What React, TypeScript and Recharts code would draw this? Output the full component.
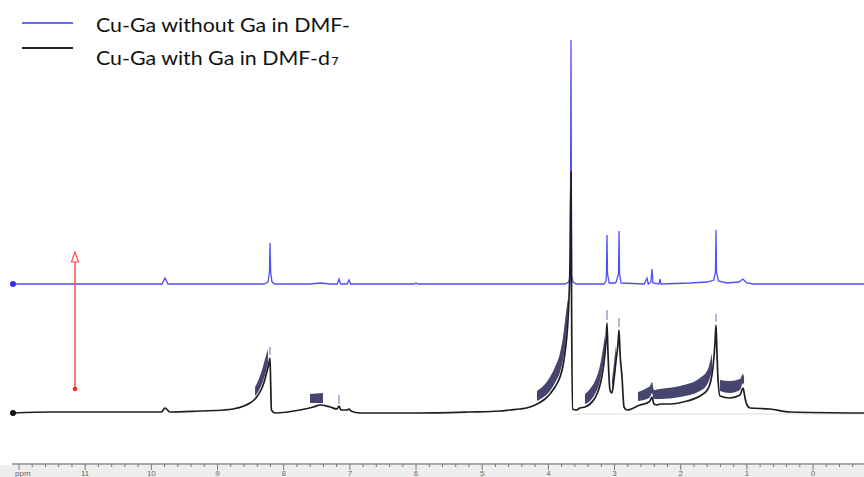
import React from "react";
import {
  ComposedChart,
  Line,
  Area,
  XAxis,
  YAxis,
  ReferenceLine,
  ReferenceDot,
} from "recharts";

// Stacked 1H NMR spectra, chemical shift (ppm) vs intensity (arbitrary units)
const BLUE_OFFSET = 180;
const BLACK_OFFSET = 51;

// Cu-Ga without Ga in DMF- : [ppm, intensity]
const blueSpectrum: [number, number][] = [
  [12.091, 0], [9.84, 0], [9.794, 6], [9.75, 0], [8.3, 0], [8.237, 2], [8.215, 12],
  [8.207, 41], [8.197, 12], [8.176, 2], [8.13, 0], [7.6, 0], [7.45, 1], [7.3, 0],
  [7.19, 0], [7.164, 5], [7.14, 0], [7.04, 0], [7.013, 4], [6.99, 0], [6.03, 0],
  [6.0, 1], [5.97, 0], [3.75, 0], [3.69, 2], [3.668, 8], [3.658, 244], [3.648, 8],
  [3.627, 2], [3.58, 0], [3.16, 0], [3.13, 3], [3.122, 10], [3.114, 49], [3.106, 10],
  [3.08, 1], [2.99, 1], [2.975, 2], [2.94, 10], [2.932, 53], [2.924, 10], [2.9, 1],
  [2.55, 0], [2.51, 6], [2.49, 0], [2.45, 2], [2.434, 15], [2.42, 1], [2.33, 0],
  [2.313, 5], [2.3, 0], [1.86, 1], [1.6, 2], [1.5, 4], [1.475, 12], [1.467, 54],
  [1.459, 12], [1.43, 3], [1.3, 1], [1.12, 2], [1.06, 5], [1.0, 1], [0.9, 0], [-0.77, 0],
];

// Cu-Ga with Ga in DMF-d7 : [ppm, intensity]
const blackSpectrum: [number, number][] = [
  [12.091, 0], [11.5, 1], [10.776, 1], [9.85, 1], [9.794, 5], [9.72, 1], [9.265, 2],
  [8.9, 3], [8.766, 4], [8.6, 7], [8.509, 10], [8.433, 14], [8.388, 18], [8.328, 25],
  [8.282, 34], [8.252, 42], [8.222, 50], [8.207, 55], [8.197, 30], [8.185, 3],
  [8.131, 0], [7.753, 3], [7.55, 6], [7.451, 8], [7.3, 6], [7.194, 4],
  [7.164, 7], [7.134, 3], [7.043, 3], [7.013, 4], [6.983, 2], [6.847, 0], [6.0, 0],
  [5.2, 1], [4.731, 2], [4.58, 3], [4.429, 4], [4.278, 6], [4.172, 9], [4.051, 14],
  [3.976, 19], [3.9, 26], [3.824, 36], [3.779, 47], [3.749, 60], [3.719, 78],
  [3.703, 93], [3.688, 115], [3.673, 150], [3.658, 241], [3.648, 90], [3.632, 4],
  [3.582, 3], [3.522, 5], [3.447, 6], [3.371, 9], [3.296, 15], [3.236, 24],
  [3.19, 37], [3.16, 50], [3.129, 72], [3.114, 90], [3.099, 60], [3.069, 23],
  [3.039, 20], [3.008, 34], [2.978, 52], [2.947, 70], [2.932, 83], [2.917, 60],
  [2.887, 36], [2.857, 6], [2.811, 3], [2.615, 8], [2.51, 10], [2.464, 12],
  [2.434, 16], [2.404, 9], [2.358, 8], [2.313, 9], [2.162, 9], [1.905, 12],
  [1.709, 17], [1.588, 24], [1.542, 33], [1.512, 46], [1.482, 70], [1.467, 88],
  [1.452, 60], [1.437, 35], [1.406, 17], [1.255, 15], [1.104, 18], [1.058, 25],
  [1.028, 15], [0.998, 8], [0.952, 5], [0.65, 4], [0.348, 1], [-0.77, 0],
];

// integration bands above the black trace: [ppm, lower, upper]
const bandA: [number, number, number][] = [
  [8.433, 17, 26], [8.388, 21, 32], [8.328, 29, 43], [8.282, 38, 54], [8.237, 50, 64],
];
const bandB: [number, number, number][] = [[7.602, 10, 19], [7.406, 10, 20]];
const bandC: [number, number, number][] = [
  [4.172, 12, 22], [4.051, 17, 29], [3.976, 22, 36], [3.9, 30, 46], [3.824, 41, 60],
  [3.779, 53, 76], [3.734, 74, 100], [3.703, 100, 115],
];
const bandD: [number, number, number][] = [
  [3.447, 9, 19], [3.371, 12, 24], [3.296, 19, 32], [3.236, 28, 43], [3.19, 42, 58], [3.145, 62, 78],
];
const bandD2: [number, number, number][] = [[3.039, 24, 33], [3.008, 38, 50], [2.978, 56, 68]];
const bandE: [number, number, number][] = [
  [2.646, 12, 21], [2.51, 14, 25], [2.464, 16, 27], [2.434, 20, 31], [2.404, 14, 23],
  [2.313, 14, 24], [2.01, 16, 27], [1.709, 22, 35], [1.588, 30, 44], [1.527, 42, 60],
];
const bandF: [number, number, number][] = [
  [1.406, 22, 33], [1.255, 20, 32], [1.104, 23, 34], [1.058, 30, 39], [1.043, 28, 36],
];
const bands = [bandA, bandB, bandC, bandD, bandD2, bandE, bandF];

// peak markers above black trace: [ppm, lower, upper]
const peakMarkers: [number, number, number][] = [
  [8.207, 58, 66], [7.164, 9, 18], [3.114, 93, 103], [2.932, 86, 95], [1.467, 91, 99],
];

// red arrow: [ppm, bottom, top]
const arrow = { ppm: 11.154, bottom: 75, top: 212 };

const startPpm = 12.091;
const xDomain: [number, number] = [-0.77, 12.106];
const xTicks = Array.from({ length: 64 }, (_, i) => Math.round((-0.6 + i * 0.2) * 10) / 10);

const legendItems = [
  { label: "Cu-Ga without Ga in DMF-", sub: "", color: "#6a6aff" },
  { label: "Cu-Ga with Ga in DMF-d", sub: "₇", color: "#222222" },
];

const blueData = blueSpectrum.map(([ppm, v]) => ({ ppm, v: v + BLUE_OFFSET }));
const blackData = blackSpectrum.map(([ppm, v]) => ({ ppm, v: v + BLACK_OFFSET }));
const bandData = bands.map((b) =>
  b.map(([ppm, lo, hi]) => ({ ppm, range: [lo + BLACK_OFFSET, hi + BLACK_OFFSET] }))
);

const AxisTick = (props: any) => {
  const { x, y, payload } = props;
  const val = payload.value as number;
  const major = Math.abs(val - Math.round(val)) < 1e-6;
  const isPpm = Math.abs(val - 12) < 1e-6;
  return (
    <g>
      <line x1={x} x2={x} y1={y} y2={y + (major ? 6 : 3)} stroke="#7a7a7a" strokeWidth={1} />
      {major && (
        <text
          x={isPpm ? x - 4 : x}
          y={y + 12}
          textAnchor={isPpm ? "start" : "middle"}
          fontSize={8}
          fontFamily="Liberation Sans, Arial, sans-serif"
          fill="#666"
        >
          {isPpm ? "ppm" : String(Math.round(val))}
        </text>
      )}
    </g>
  );
};

const Triangle = (props: any) => {
  const { cx, cy } = props;
  return (
    <polygon
      points={`${cx},${cy - 5} ${cx - 3.5},${cy + 5} ${cx + 3.5},${cy + 5}`}
      fill="#ffffff"
      stroke="#ff4a4a"
      strokeWidth={1.2}
    />
  );
};

export default function App() {
  return (
    <div style={{ position: "absolute", left: 0, top: 0, width: 864, height: 477, background: "#fff", overflow: "hidden" }}>
      <div style={{ position: "absolute", left: 0, top: 465, width: 864, height: 12, background: "#eeeeee" }} />
      <div style={{ position: "absolute", left: 0, top: 0 }}>
        <ComposedChart width={864} height={477} margin={{ top: 0, right: 0, bottom: 0, left: 12 }}>
          <XAxis
            type="number"
            dataKey="ppm"
            domain={xDomain}
            reversed
            allowDataOverflow
            ticks={xTicks}
            interval={0}
            height={13}
            tickSize={0}
            tickMargin={0}
            tickLine={false}
            tick={<AxisTick />}
            axisLine={{ stroke: "#8c8c8c", strokeWidth: 1.5 }}
          />
          <YAxis type="number" domain={[0, 464]} hide allowDataOverflow />
          <ReferenceLine
            segment={[{ x: 3.6, y: BLACK_OFFSET - 1 }, { x: -0.77, y: BLACK_OFFSET - 1 }]}
            stroke="#dddddd"
            strokeWidth={1}
          />
          <Line
            data={blueData}
            dataKey="v"
            type="linear"
            stroke="#4f4ff8"
            strokeWidth={1.3}
            dot={false}
            isAnimationActive={false}
          />
          {bandData.map((d, i) => (
            <Area
              key={i}
              data={d}
              dataKey="range"
              type="monotoneX"
              stroke="none"
              fill="#45456f"
              fillOpacity={1}
              isAnimationActive={false}
            />
          ))}
          <Line
            data={blackData}
            dataKey="v"
            type="monotoneX"
            stroke="#1e1e1e"
            strokeWidth={1.7}
            dot={false}
            isAnimationActive={false}
          />
          {peakMarkers.map(([ppm, lo, hi], i) => (
            <ReferenceLine
              key={i}
              segment={[{ x: ppm, y: lo + BLACK_OFFSET }, { x: ppm, y: hi + BLACK_OFFSET }]}
              stroke="#a0a0c8"
              strokeWidth={1.5}
            />
          ))}
          <ReferenceLine
            segment={[{ x: arrow.ppm, y: arrow.bottom }, { x: arrow.ppm, y: arrow.top - 10 }]}
            stroke="#ff4a4a"
            strokeWidth={1.5}
          />
          <ReferenceDot x={arrow.ppm} y={arrow.top - 5} r={5} shape={<Triangle />} />
          <ReferenceDot x={arrow.ppm} y={arrow.bottom} r={2.2} fill="#ff2020" stroke="none" />
          <ReferenceDot x={startPpm} y={BLUE_OFFSET} r={3} fill="#2f2fe8" stroke="none" />
          <ReferenceDot x={startPpm} y={BLACK_OFFSET} r={3} fill="#111" stroke="none" />
        </ComposedChart>
      </div>
      <svg width={864} height={80} style={{ position: "absolute", left: 0, top: 0 }}>
        {legendItems.map((it, i) => (
          <g key={i}>
            <line x1={22} x2={73} y1={23 + i * 25} y2={23 + i * 25} stroke={it.color} strokeWidth={2} />
            <text
              x={96}
              y={32 + i * 33}
              fontSize={20}
              fontFamily="Lato, 'Open Sans', sans-serif"
              fill="#111"
              textLength={i === 0 ? 254 : 234}
              lengthAdjust="spacingAndGlyphs"
            >
              {it.label}
            </text>
            {it.sub && (
              <text x={331} y={32 + i * 33} fontSize={20} fontFamily="'DejaVu Sans', sans-serif" fill="#111">
                {it.sub}
              </text>
            )}
          </g>
        ))}
      </svg>
    </div>
  );
}
